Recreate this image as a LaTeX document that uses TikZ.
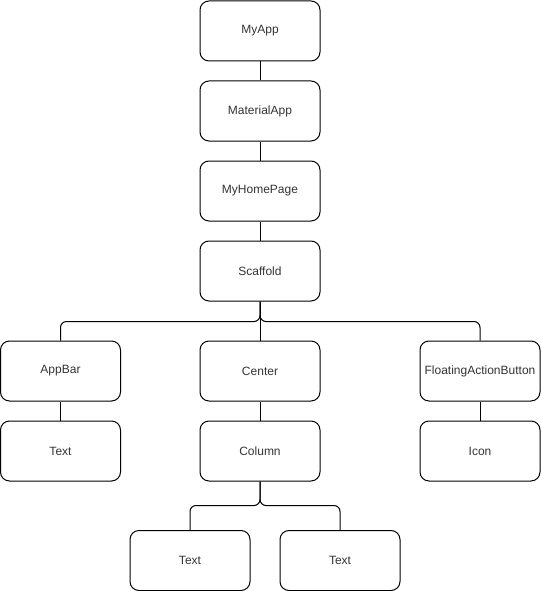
\documentclass[tikz,border=0pt]{standalone}
\usepackage{fontspec}
\setmainfont{Liberation Sans}
\usetikzlibrary{calc}

\tikzset{
 widget/.style={draw, line width=1pt, rounded corners=9pt, minimum width=120pt, minimum height=60pt, inner sep=0pt, font=\fontsize{12}{14}\selectfont, text=black!80},
 link/.style={draw, line width=1pt, rounded corners=6pt}
}

\begin{document}
\begin{tikzpicture}[x=1pt,y=-1pt]
\useasboundingbox (0,0) rectangle (541,591);
% main chain
\node[widget] (myapp) at (260,31) {MyApp};
\node[widget] (material) at (260,111) {MaterialApp};
\node[widget] (home) at (260,191) {MyHomePage};
\node[widget] (scaffold) at (260,271) {Scaffold};
% children of scaffold
\node[widget] (appbar) at (60.5,371) {AppBar};
\node[widget] (center) at (260,371) {Center};
\node[widget] (fab) at (480,371) {FloatingActionButton};
\node[widget] (bartext) at (60.5,451) {Text};
\node[widget] (column) at (260,451) {Column};
\node[widget] (icon) at (480,451) {Icon};
% children of column
\node[widget] (textA) at (190,560.5) {Text};
\node[widget] (textB) at (340,560.5) {Text};
\foreach \a/\b in {myapp/material, material/home, home/scaffold, scaffold/center, appbar/bartext, center/column, fab/icon}
 \draw[link] (\a.south) -- (\b.north);
\draw[link] (scaffold.south) -- ++(0,20) -| (appbar.north);
\draw[link] (scaffold.south) -- ++(0,20) -| (fab.north);
\draw[link] (column.south) -- ++(0,24) -| (textA.north);
\draw[link] (column.south) -- ++(0,24) -| (textB.north);
\end{tikzpicture}
\end{document}
